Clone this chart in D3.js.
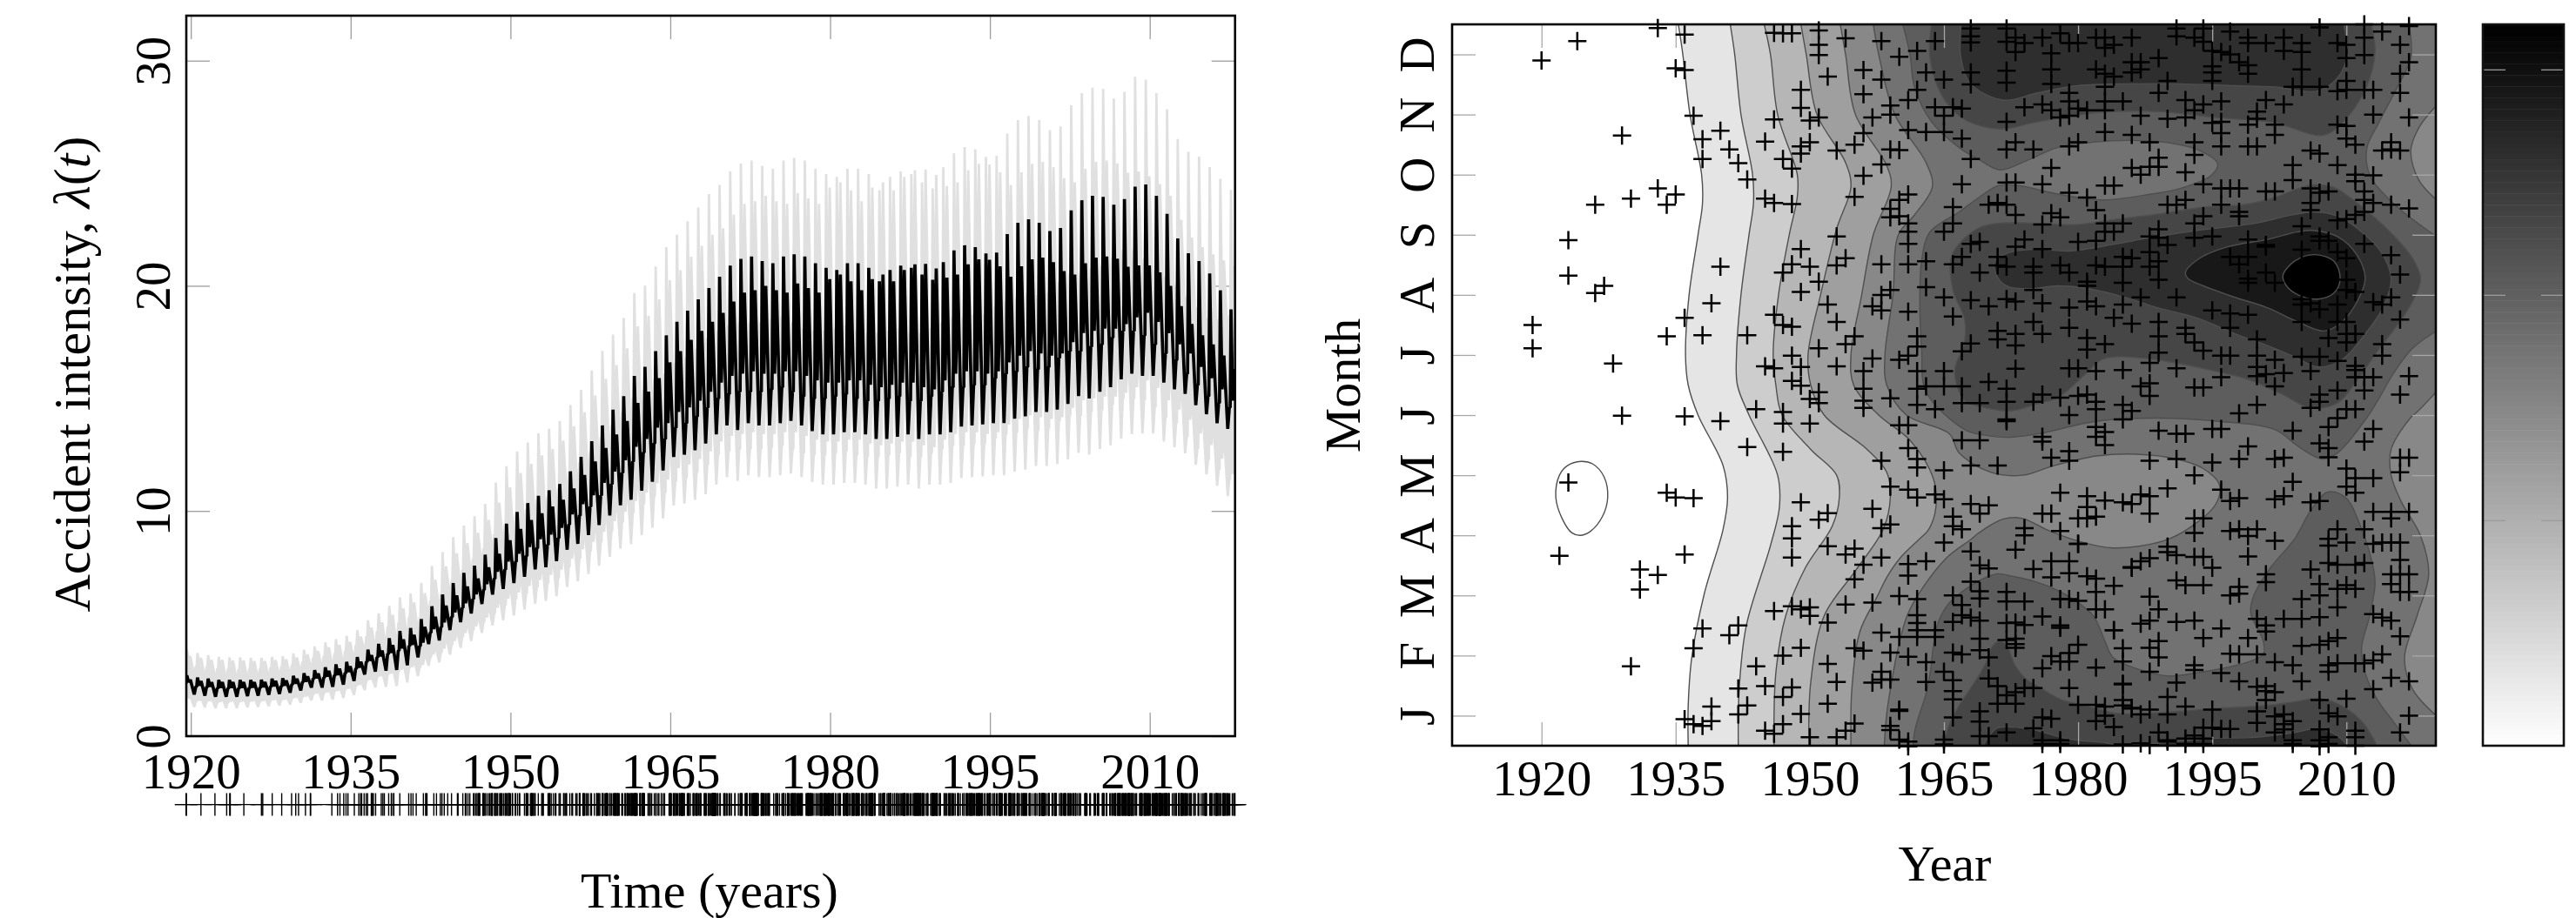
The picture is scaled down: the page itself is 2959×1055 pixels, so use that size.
<!DOCTYPE html>
<html><head><meta charset="utf-8">
<script src="https://d3js.org/d3.v7.min.js"></script>
<style>html,body{margin:0;background:#fff}svg{display:block}text{font-family:"Liberation Serif",serif;fill:#000}</style>
</head><body><svg id="c" width="2959" height="1055"></svg>
<script>
// ---------- left panel: intensity, one entry per year 1919..2017 ----------
const firstYear = 1919;
const augustPeak = [2.7,2.6,2.55,2.5,2.5,2.5,2.5,2.5,
 2.55,2.57,2.68,2.8,2.93,3.06,3.19,3.3,3.51,3.84,4.1,4.35,4.67,4.8,5.2,5.77,6.29,6.8,7.25,7.57,8.06,8.8,9.44,9.96,10.35,10.67,10.92,11.2,11.76,12.4,13.1,13.8,14.5,15.1,16,16.4,17.1,
 17.8,18.4,18.9,19.4,19.9,20.4,20.9,21.2,21.3,21.1,21,21.3,21.4,21.3,21,20.8,20.7,21,21,
 20.8,20.2,20.7,20.9,20.8,20.5,20.27,21.05,21.57,21.8,21.72,21.44,21.48,22.3,22.8,22.95,22.8,22.43,22.57,23.35,23.8,24,23.95,23.6,23.85,24.4,24.5,24,23.2,22.1,21.45,21.1,20.55,19.8,18.95];
const decemberPeak = [2.5,2.45,2.4,2.4,2.4,2.4,2.4,2.4,2.45,2.47,2.55,2.65,2.78,2.9,3.0,3.1,3.3,3.6,3.8,4.05,4.3,4.5,4.85,5.3,5.8,6.25,6.65,7.0,7.5,8.1,8.7,9.2,9.6,9.9,10.2,10.5,11,11.6,12.2,12.8,13.4,14,14.8,15.3,15.9,
 16.6,17.1,17.6,18.0,18.4,18.8,19.3,19.7,19.8,20,19.8,19.7,20.1,19.9,19.7,20.3,20.5,20.2,19.8,20.3,
 20.5,20.2,20.7,20.95,20.97,20.77,20.36,20.5,20.95,21.18,21.16,20.87,20.4,20.87,21.18,21.25,21.05,20.65,20.5,21,21.25,21.3,21.2,20.85,20.9,20.9,20.6,20,19.1,18.3,17.8,17.4,16.9,16.3];
const springTrough = [2.0,1.85,1.8,1.75,1.75,1.75,1.78,1.8,
 1.84,1.88,1.93,2.03,2.16,2.16,2.19,2.29,2.45,2.74,2.87,2.91,2.94,3.15,3.5,4.09,4.25,4.71,5.06,5.45,5.87,6.29,6.54,6.8,7.08,7.41,7.5,7.77,8.28,8.54,8.93,9.38,9.8,10.25,
 10.5,10.9,11.3,11.8,12.4,12.5,12.7,13,13.4,13.8,13.6,13.9,13.8,13.8,13.9,14,13.8,13.55,13.4,13.4,13.5,13.5,13.4,13.2,13.2,13.3,13.4,13.2,13.4,13.4,13.5,13.75,13.8,13.85,13.9,13.9,14.1,14.2,14.4,14.4,14.5,14.75,15.1,15,15.3,15.5,15.85,16.1,16,16,15.7,15.4,15.2,14.7,14.3,13.9,13.65];
const summerShoulder = [2.35,2.2,2.18,2.12,2.12,2.12,2.14,2.15,
 2.2,2.22,2.3,2.4,2.55,2.6,2.7,2.8,3.0,3.3,3.5,3.65,3.8,4.0,
 4.0,4.6,4.85,5.3,5.7,6.1,6.5,7.0,7.4,7.75,8.0,8.35,8.5,8.8,9.4,9.8,10.2,10.7,11.2,11.7,12.2,12.6,13.0,
 13.2,13.7,13.9,14.2,14.6,15,15.2,15.3,15.3,15.3,15.4,15.5,15.3,15.1,15,15,15.1,15.2,15,14.9,14.9,15,15.1,14.9,14.9,15.1,15.3,15.5,15.5,15.6,15.6,15.9,16.1,16.2,16.4,16.3,16.4,16.8,17.1,17.1,17.3,17.4,17.7,18,18,17.8,17.4,17,16.7,16.1,15.6,15.1,14.8,14.6];
const autumnDip = [2.4,2.25,2.2,2.15,2.15,2.15,2.16,2.18,
 2.22,2.25,2.33,2.42,2.58,2.65,2.72,2.85,3.05,3.35,3.55,3.7,3.9,4.05,
 4.15,4.75,5.05,5.5,5.9,6.3,6.75,7.3,7.75,8.1,8.4,8.75,8.95,9.25,9.85,10.3,10.7,11.25,11.75,12.25,12.85,13.2,13.7,
 13.9,14.4,14.6,14.9,15.3,15.7,16,16.1,16.2,16.1,16.1,16.2,16.2,16.0,15.8,15.7,15.7,15.8,15.8,15.6,15.5,15.6,15.7,15.7,15.5,15.4,15.8,16.1,16.2,16.2,16.1,16.2,16.6,16.9,17.1,17,16.9,17,17.5,17.9,18,18.1,18.1,18.3,18.6,18.8,18.4,17.9,17.4,17,16.4,15.9,15.4,14.9];
const bandRatio = [1.42,1.42,1.41,1.41,1.40,1.40,1.39,1.39,1.38,1.38,1.37,1.37,
 1.36,1.36,1.35,1.35,1.34,1.34,1.33,1.33,1.32,1.32,
 1.31,1.31,1.30,1.30,1.29,1.29,1.28,1.28,1.27,1.27,
 1.26,1.26,1.25,1.25,1.25,1.24,1.24,1.24,1.23,1.23,
 1.23,1.22,1.22,1.22,1.21,1.21,1.21,1.21,1.20,1.20,
 1.2,1.2,1.2,1.2,1.2,1.2,1.2,1.2,1.2,1.2,1.2,1.2,1.2,1.2,1.2,1.2,1.2,1.2,1.2,1.2,1.2,1.2,1.2,1.2,1.2,1.2,1.2,1.2,1.2,1.2,
 1.2,1.2,1.2,1.2,1.2,1.2,1.2,1.2,1.19,1.19,
 1.2,1.2,1.21,1.22,1.23,1.25,1.28];
const closingTrough = 13.5;
const intensityTicks = [0,10,20,30];
const timeTicks = [1920,1935,1950,1965,1980,1995,2010];

// ---------- right panel: contour outlines, [year, month] ----------
const outlineLevel1 = [[1935.3,12.5],[1935.8,12],[1936.6,11],[1937.9,10],[1938,9.53],[1937.5,9],[1936.5,8],[1936.1,7],[1936.4,6.5],[1937.5,6],[1940.3,5.16],[1940.8,4.63],[1940.3,4.1],[1938.2,3.03],[1936.8,1.97],[1936.4,1.17],[1936.4,.5]];
const outlineLevel2 = [[1941.1,12.5],[1941.6,12],[1942.3,11],[1943.6,10],[1943.7,9.53],[1943.2,9],[1942.3,8],[1941.8,7],[1941.9,6.5],[1943.2,6],[1946.4,5],[1946.6,4.47],[1945.6,3.83],[1942.9,2.5],[1942.1,1.44],[1942,.5]];
const outlineLevel3 = [[1944.9,12.5],[1945.6,12],[1946.4,11],[1948.6,10],[1948.6,9.63],[1947.7,9],[1946.5,8],[1945.9,7],[1946.2,6.5],[1946.9,6],[1950.1,5.43],[1953,5],[1953.3,4.63],[1952.5,4.15],[1949.5,3.46],[1947.3,2.66],[1946.2,1.71],[1946,.5]];
const outlineLevel4 = [[1949,12.5],[1949.6,12],[1950.8,11],[1954,10.2],[1954.6,9.8],[1953,9.1],[1951.2,8],[1949.8,7],[1950.1,6.5],[1951.6,6],[1956.4,5.43],[1958.6,5.05],[1959,4.63],[1958.2,4.1],[1955.1,3.41],[1951.6,2.66],[1950.1,1.55],[1949.9,.5]];
const outlineLevel5 = [[1953.4,12.5],[1954,12],[1955.1,11],[1958.6,10.15],[1959.1,9.8],[1957.1,9],[1955.8,8],[1954.6,7],[1954.9,6.5],[1957.7,6],[1961.2,5.58],[1963.8,4.95],[1964.1,4.47],[1963.3,4.1],[1962.2,3.93],[1960.2,3.64],[1958.6,3.3],[1957.6,3],[1955.6,2.4],[1954.7,1.44],[1954.6,.5]];
const outlineLevel6 = [[1957.1,12.5],[1957.7,12],[1959.5,11],[1963,10.2],[1963.7,9.8],[1961.7,9.33],[1959.9,9],[1959.3,8],[1958.4,7],[1958.6,6.5],[1960.8,6],[1965.6,5.69],[1966.7,5.37],[1970.2,5.05],[1973.8,5],[1977.3,5.16],[1982.1,5.32],[1986.5,5.35],[1991,5.27],[1994,5.11],[1995.8,4.84],[1995.4,4.52],[1992.7,4.15],[1989.6,3.91],[1983.9,3.79],[1979.9,3.91],[1976.4,4.1],[1973.8,4.28],[1971.6,4.27],[1968.9,4.04],[1968,3.93],[1965.4,3.64],[1962.5,3.1],[1960.9,2.67],[1959.9,2.14],[1959.2,1.61],[1958.6,1.03],[1958.3,.45]];
const rightLobeUpper = [[2020.06,11.15],[2018.1,10.78],[2017.2,10.4],[2018.1,9.91],[2020.06,9.58]];
const rightLobeLower = [[2020.06,6.39],[2017.9,6.05],[2017.2,5.96],[2015,5.43],[2015,5],[2016.1,4.57],[2018.3,3.99],[2019.2,3.35],[2017.9,2.66],[2016.5,1.97],[2017.4,1.44],[2020.06,1]];
const outlineLevel7Lead = [[1960.4,12.5],[1961.2,12],[1961.7,11.46],[1963.6,10.88],[1966.7,10.45],[1968.9,10.25],[1971.3,10.08],[1974.2,10.23],[1977.7,10.45],[1981.7,10.54],[1985.7,10.57],[1989.6,10.54],[1993.6,10.4],[1995.6,10.18],[1994.9,9.99],[1991.4,9.77],[1987.9,9.67],[1983,9.58],[1979.5,9.63],[1976.4,9.72],[1973.3,9.82],[1971.1,9.82],[1968.9,9.62],[1966.7,9.38],[1963.4,9.04],[1962.5,8.56],[1962.3,7.84],[1962.5,7.11],[1963,6.39],[1967.3,5.76],[1969.4,5.67],[1972.4,5.63],[1975.9,5.7],[1982.1,5.9],[1988.8,5.95],[1995.4,5.9],[2002,5.76],[2004.6,5.48],[2007.3,5.27],[2009,5.37],[2012.3,5.96],[2013.5,6.24],[2015.2,6.68],[2017.4,7.11],[2020.06,7.4]];
const outlineLevel7Tail = [[2020.06,8.97],[2015.2,9.53],[2012.6,10],[2012.3,10.45],[2013.5,10.83],[2015.7,11.46],[2017.2,11.94],[2017,12.5]];
const outlineLevel7Low = [[1961.5,.45],[1961.8,.79],[1963,1.37],[1963.5,1.75],[1963.8,2.14],[1964.3,2.53],[1965.4,2.84],[1967,3.06],[1969,3.25],[1971,3.36],[1972.6,3.32],[1975.2,3.23],[1977.8,3.08],[1979.5,2.93],[1981.7,2.66],[1983,2.24],[1983.9,1.97],[1987,1.76],[1990.1,1.66],[1993.2,1.71],[1998.5,1.87],[2000.7,2.02],[2000.7,2.24],[1999.3,2.71],[1999.6,2.98],[2001.5,3.46],[2004.2,3.94],[2006,4.41],[2007.9,4.72],[2009.9,4.63],[2011.7,4.1],[2013,3.46],[2013.2,3.19],[2012.6,2.66],[2011.7,2.13],[2012.1,1.71],[2013.4,1.28],[2015.2,.91],[2017.2,.51]];
const outlineLevel8Top = [[1963.6,12.5],[1963.4,12],[1964.3,11.46],[1966,11.07],[1967.8,10.88],[1971.3,10.76],[1975.5,10.88],[1982.1,11.03],[1988.8,11.05],[1995.4,10.95],[2002,10.86],[2007.1,10.65],[2009,10.78],[2012.1,11.41],[2013.2,12.04],[2012.8,12.5]];
const outlineLevel8Low = [[1964.6,.45],[1965.1,.64],[1965.7,.89],[1966.7,1.17],[1968,1.46],[1969.6,1.85],[1970.5,2.17],[1971.3,2.24],[1972.1,2.14],[1972.9,1.85],[1974.2,1.61],[1975.8,1.46],[1978.1,1.27],[1981.3,1.15],[1984.3,1.04],[1987.9,1.04],[1995.4,1.12],[2001.1,1.17],[2004.2,1.23],[2006.8,1.29],[2009,1.2],[2011.7,.91],[2013.4,.51]];
const outlineLevel8Mid = [[1966,8.08],[1965.9,8.66],[1968.6,9.09],[1971.1,9.19],[1975.5,9.19],[1979.9,9.17],[1984.3,9.26],[1988.8,9.34],[1994,9.46],[1998.5,9.5],[2002,9.62],[2004.6,9.77],[2006.4,9.83],[2008.6,9.79],[2010.4,9.62],[2012.6,9.36],[2015.2,9],[2017.4,8.61],[2018.3,8.27],[2017.4,7.89],[2015.7,7.5],[2013.5,7.07],[2011.2,6.58],[2009,6.2],[2006,6.12],[2002.9,6.34],[1999.3,6.58],[1995.4,6.73],[1988.8,6.92],[1984.3,6.97],[1982.6,6.92],[1980.8,6.68],[1977.7,6.29],[1975.5,6.19],[1972.4,6.07],[1968.9,6.15],[1967.3,6.24],[1966.2,6.73],[1967.3,7.21],[1967.3,7.6]];
const outlineLevel9Top = [[1966.9,12.5],[1966.9,11.94],[1968,11.51],[1971.6,11.24],[1975.5,11.36],[1979.9,11.48],[1985.7,11.51],[1991.4,11.51],[1997.6,11.48],[2002,11.46],[2006.8,11.39],[2009,11.61],[2010.1,11.99],[2009.7,12.5]];
const outlineLevel9Low = [[1969.2,.45],[1970.9,.79],[1972.6,.81],[1975.2,.76],[1978.1,.64],[1980,.59],[1983,.55],[1984.3,.51],[1988.8,.54],[1994.9,.62],[1999.8,.64],[2004.2,.72],[2006.4,.78],[2008.6,.7],[2010.1,.51]];
const outlineLevel9Mid = [[1970.7,8.56],[1972.4,8.71],[1975.5,8.76],[1979,8.73],[1984.3,8.85],[1987.9,8.95],[1993.2,9.07],[1999.8,9.19],[2003.3,9.31],[2006.4,9.38],[2009,9.31],[2011.7,9.05],[2013.9,8.71],[2015,8.27],[2014.1,7.79],[2012.1,7.35],[2009.5,6.92],[2006.8,6.8],[2004.2,6.97],[2001.1,7.16],[1997.6,7.35],[1993.2,7.62],[1988.8,7.79],[1985.2,7.96],[1981.3,8.1],[1977.7,8.15],[1974.6,8.1],[1972,8.15],[1970.9,8.32]];
const outlineLevel10 = [[1992,8.37],[1993.6,8.61],[1996.7,8.8],[2001.1,8.92],[2004.6,9.05],[2006.4,9.07],[2009,8.97],[2011.2,8.66],[2012.1,8.27],[2011.2,7.89],[2009.5,7.55],[2007.5,7.4],[2004.6,7.55],[2001.1,7.79],[1997.1,7.98],[1994,8.15],[1992.3,8.27]];
const outlineLevel11 = [[2002.9,8.32],[2004.2,8.56],[2006.4,8.67],[2008.6,8.56],[2009.3,8.27],[2008.6,8.03],[2006.8,7.93],[2004.6,8],[2003.3,8.15]];
const outlineIsland = [[1921.6,4.63],[1922,5],[1922.9,5.16],[1924.4,5.23],[1925.7,5.19],[1927,4.97],[1927.4,4.63],[1926.8,4.31],[1925.5,4.07],[1924.4,4],[1923.4,4.04],[1922.3,4.28]];
const levelGrays = [255,229,205,182,159,136,114,93,70,46,24,0];

// ---------- right panel: accidents, [year, month] ----------
const eventsUpperLeft = [[1933,12.44],[1936,12.33],[1924,12.22],[1920,11.9],[1935,11.77],[1936,11.74],[1937,10.98],[1929,10.65],[1940,10.73],[1938,10.59],[1941,10.42],[1938,10.26],[1942,10.19],[1943,9.92],[1933,9.77],[1935,9.67],[1930,9.6],[1934,9.5],[1926,9.5],[1945,9.6],[1946,9.53],[1948,9.51],[1923,8.91],[1923,8.32],[1927,8.15],[1926,8.03],[1919,7.5],[1919,7.11],[1928,6.86],[1929,5.99],[1936,5.98],[1940,8.47],[1939,7.86],[1936,7.62],[1934,7.31],[1938,7.33],[1943,7.33],[1940,5.9],[1945,6.81],[1946,6.78],[1944,6.1],[1947,6.05],[1947,5.86],[1946,10.92],[1945,10.55],[1947,10.26],[1948,10.1],[1949,11.41],[1949,11.11],[1950,10.9],[1951,10.95],[1949,10.47],[1950,10.54],[1949,10.35],[1953,10.4],[1955,10.5],[1956,10.69],[1957,10.95],[1959,11],[1956,11.34],[1956,11.74],[1958,11.58],[1952,11.63],[1951,12.4],[1951,12.16],[1951,11.99],[1947,12.35],[1946,12.36],[1948,12.35],[1954,12.27],[1958,12.22],[1960,11.96],[1962,12.06],[1964,12.22],[1963,11.7],[1965,11.58],[1968,12.43],[1968,12.3],[1968,11.5],[1959,11.15],[1961,11.24],[1962,11.41],[1961,10.74],[1963,10.71],[1965,10.71],[1959,10.42],[1960,10.41],[1958,10.17],[1956,9.98],[1955,9.63],[1967,9.84],[1968,10.26],[1967,10.6],[1966,11.12],[1964,11.12],[1965,10.98],[1967,11.1],[1961,9.67],[1960,9.58],[1959,9.43],[1959,9.29],[1960,9.31],[1961,9.19],[1961,9.05],[1961,8.85],[1953,8.97],[1949,8.76],[1954,8.61],[1953,8.49],[1950,8.47],[1948,8.51],[1947,8.37],[1951,8.22],[1949,8.05],[1952,7.84],[1953,7.55],[1946,7.67],[1947,7.5],[1948,7.47],[1955,7.31],[1954,7.18],[1951,7.11],[1948,6.99],[1949,6.8],[1953,6.81],[1957,6.94],[1956,6.73],[1956,6.44],[1956,6.24],[1956,6.12],[1959,6.28],[1948,6.57],[1949,6.49],[1951,6.38],[1950,6.27],[1951,6.2],[1950,5.86],[1958,8.51],[1961,8.51],[1963,8.56],[1966,8.51],[1967,8.63],[1969,8.37],[1969,8.88],[1968,8.85],[1965,9.05],[1966,9.46],[1966,9.19],[1970,9.5],[1971,9.53],[1963,8.13],[1959,8.08],[1958,8],[1957,7.81],[1958,7.74],[1961,7.72],[1965,7.96],[1968,7.91],[1970,7.81],[1966,7.64],[1971,7.4],[1967,7.06],[1968,7.19],[1962,7.31],[1961,6.99],[1960,6.92],[1962,7.14],[1962,6.73],[1962,6.44],[1962,6.17],[1963,6.48],[1964,6.1],[1965,6.73],[1965,6.48],[1967,6.2],[1967,6.48],[1969,6.2],[1970,6.55],[1961,5.83],[1960,5.83]];
const eventsLowerLeft = [[1923,4.88],[1922,3.66],[1934,4.71],[1935,4.63],[1937,4.62],[1936,3.68],[1931,3.43],[1933,3.34],[1931,3.1],[1930,1.82],[1938,2.45],[1937,2.12],[1942,2.5],[1941,2.34],[1949,4.55],[1948,4.15],[1948,3.95],[1948,3.63],[1943,5.47],[1947,5.39],[1952,4.37],[1951,4.26],[1952,3.82],[1955,3.78],[1954,3.68],[1956,3.51],[1955,3.27],[1957,4.44],[1959,4.81],[1958,5.24],[1961,4.76],[1962,5.27],[1962,5.13],[1965,5.08],[1964,4.68],[1965,4.6],[1962,4.63],[1961,5.45],[1967,5.58],[1969,5.58],[1968,5.16],[1971,5.16],[1968,4.52],[1970,4.5],[1969,4.36],[1966,4.31],[1967,4.1],[1966,4.15],[1959,4.18],[1958,4.12],[1954,2.85],[1952,2.55],[1950,2.66],[1950,2.8],[1949,2.77],[1948,2.82],[1946,2.74],[1949,2.13],[1947,2],[1944,1.82],[1945,1.49],[1942,1.45],[1943,1.17],[1942,1.02],[1939,1.15],[1939,.91],[1938,.83],[1936,.94],[1937,.86],[1948,1.47],[1947,1.31],[1949,1.03],[1947,.86],[1945,.75],[1946,.7],[1952,1.86],[1953,1.56],[1952,1.2],[1950,.64],[1953,.64],[1954,.75],[1955,.87],[1955,2.12],[1956,2.08],[1957,1.55],[1957,2.88]];
const eventsLowerMiddle = [[1965,3.88],[1968,3.73],[1969,3.5],[1970,3.45],[1973,3.76],[1975,3.44],[1977,3.57],[1977,3.3],[1979,3.57],[1979,3.37],[1980,3.86],[1981,3.32],[1982,3.28],[1984,3.16],[1982,3.06],[1982,2.77],[1983,2.77],[1986,3.47],[1968,3.23],[1969,3.07],[1969,2.95],[1972,3.06],[1972,2.9],[1974,2.9],[1966,3],[1967,2.84],[1966,2.56],[1967,2.67],[1968,2.63],[1969,2.58],[1972,2.54],[1973,2.55],[1974,2.51],[1976,2.65],[1978,2.5],[1978,2.46],[1978,2.94],[1979,2.94],[1980,2.91],[1973,2.28],[1973,2.19],[1973,2.13],[1972,2.26],[1969,2.28],[1969,2.09],[1970,1.97],[1967,2.02],[1966,2.05],[1962,2.94],[1962,2.67],[1962,2.54],[1962,2.42],[1962,2.31],[1964,2.42],[1964,2.31],[1961,3.52],[1961,3.33],[1963,3.57],[1960,2.99],[1958,3.63],[1958,2.38],[1960,2.31],[1959,2.05],[1961,1.98],[1963,1.89],[1963,1.56],[1965,1.73],[1966,1.59],[1966,1.41],[1966,1.27],[1966,.97],[1958,1.73],[1958,1.6],[1959,1.6],[1960,1.1],[1960,1.08],[1959,.76],[1959,.83],[1960,.6],[1961,.57],[1965,.6],[1970,1.62],[1971,1.49],[1971,1.2],[1972,1.34],[1973,1.39],[1973,1.2],[1974,1.46],[1975,1.46],[1969,1.07],[1969,.9],[1969,.66],[1970,.66],[1972,.72],[1975,.79],[1976,.59],[1976,.97],[1977,.95],[1978,.59],[1976,1.79],[1977,1.99],[1978,1.9],[1979,2.04],[1980,2.18],[1982,1.8],[1979,1.9],[1980,1.18],[1979,1.46],[1982,1.18],[1983,1.15],[1983,1],[1984,.81],[1982,.91],[1985,1.53],[1985,1.17],[1986,1.13],[1985,2.12],[1984,2.42],[1976,.53],[1978,.53],[1985,.52],[1987,.54],[1988,.51],[1990,.57],[1992,.53],[1994,.53],[2004,.53],[2007,.49],[2008,.53],[2011,.5],[1961,.49],[1965,.52]];
const eventsLowerRight = [[1972,5.9],[1976,5.64],[1976,5.56],[1977,5.29],[1979,5.4],[1979,5.24],[1983,5.72],[1982,5.8],[1982,5.64],[1983,5.5],[1988,5.24],[1989,5.74],[1991,5.69],[1992,5.69],[1991,5.27],[1993,5],[1995,5.21],[1996,5.77],[1995,5.77],[1998,5.27],[1999,5.48],[2002,5.27],[2003,5.29],[2004,4.89],[2004,5.74],[2007,5.53],[2008,5.8],[2008,5.45],[2008,5.3],[2012,5.56],[2013,5.77],[2016,5.29],[2017,5.29],[2016,5.05],[2010,5.11],[2011,4.95],[2013,4.95],[2010,4.81],[2011,4.71],[2002,4.6],[2003,4.65],[1998,4.62],[2006,4.55],[2007,4.57],[1996,4.76],[1997,4.57],[1990,4.78],[1987,4.68],[1988,4.65],[1986,4.52],[1985,4.55],[1983,4.58],[1981,4.65],[1981,4.47],[1981,4.28],[1982,4.31],[1980,4.28],[1978,4.71],[1977,4.36],[1976,4.36],[1974,4.12],[1974,4],[1978,4.07],[1980,3.86],[1988,4.36],[1993,4.28],[1994,4.28],[1993,4.04],[2013,4.39],[2015,4.39],[2017,4.39],[2015,4.28],[1998,4.1],[2000,4.1],[1997,4.07],[1999,3.99],[1999,3.65],[2002,3.91],[2009,4.1],[2008,3.94],[2010,3.88],[2008,3.83],[2012,4.1],[2013,3.86],[2014,3.88],[2015,3.88],[2016,3.88],[2016,3.59],[2015,3.35],[2017,3.35],[2016,3.35],[2015,3.19],[2017,3.06],[2016,3.06],[2011,3.51],[2012,3.54],[2009,3.51],[2008,3.54],[2001,3.35],[2001,3.22],[2006,3.43],[2007,3.19],[2010,3.17],[2011,3.11],[2009,3.11],[2007,3],[2005,2.94],[2009,2.8],[2013,2.69],[2014,2.63],[2015,2.58],[2016,2.32],[2007,2.64],[2005,2.61],[2003,2.61],[2000,2.61],[2001,2.5],[2001,2.4],[1998,3.14],[1997,3],[1998,3.03],[1995,3.46],[1994,3.64],[1993,3.64],[1991,3.67],[1990,3.81],[1990,3.72],[1988,3.62],[1986,3.46],[1987,3.57],[1991,3.25],[1992,3.17],[1994,3.17],[1988,2.98],[1989,2.77],[1988,2.58],[1987,2.53],[1991,2.56],[1993,2.58],[1996,2.45],[1994,2.29],[1999,2.29],[1998,2.02],[2000,2.02],[2005,2.16],[2007,2.18],[2008,2.24],[2009,2.29],[2008,1.84],[2009,1.87],[2008,1.73],[2011,1.87],[2012,1.87],[2013,1.92],[2014,2.02],[2015,1.63],[2017,1.57],[2013,1.44],[2010,1.28],[2007,1.26],[2008,1.04],[2009,.99],[2017,1],[2016,.72],[2011,.75],[2007,.77],[2007,.59],[2008,.64],[2004,.91],[2003,1.02],[2002,.99],[2000,.88],[2000,1.07],[2001,1.26],[2001,1.41],[2002,1.39],[2001,1.49],[2000,1.48],[1998,1.57],[1997,2.03],[2002,1.89],[2004,1.84],[2005,1.57],[1996,1.71],[1993,1.84],[1993,1.76],[1991,1.55],[1990,1.31],[1990,1.02],[1992,1.15],[1988,1.73],[1989,1.97],[1989,2.24],[1988,2.13],[1985,1.9],[1984,2.42],[1985,1.52],[1985,1.26],[1987,1.02],[1988,1.1],[1986,1.12],[1989,.72],[1990,.59],[1992,.62],[1993,.67],[1994,.8],[1995,1.1],[1995,.8],[1996,.78],[1997,.78],[1994,.62],[2004,.59],[2003,.77],[2003,.86],[2002,.72],[2011,.64]];
const eventsUpperTop = [[1968,12.2],[1968,11.7],[1972,12.43],[1972,12.21],[1972,11.73],[1972,11.53],[1974,12.19],[1973,12.04],[1973,12.28],[1976,12.28],[1977,12.02],[1977,11.75],[1977,11.51],[1978,12.35],[1979,12.19],[1980,12.19],[1982,12.28],[1983,12.28],[1983,12.11],[1984,12.16],[1986,12.28],[1989,11.94],[1982,11.75],[1983,11.68],[1984,11.63],[1986,11.7],[1987,11.87],[1987,11.75],[1986,11.87],[1990,11.56],[1991,12.43],[1991,12.3],[1993,12.28],[1994,12.43],[1994,12.21],[1995,12.06],[1995,11.8],[1995,11.7],[1995,11.56],[1996,12.04],[1997,12.38],[1997,12],[1998,11.87],[1999,12.28],[1999,12.19],[1999,11.82],[1999,11.68],[2001,12.19],[2003,12.28],[2003,12.06],[2005,12.19],[2005,12.04],[2005,11.75],[2005,11.46],[2007,12.45],[2007,11.46],[2009,12.19],[2010,12.16],[2010,11.94],[2010,11.56],[2012,12.5],[2012,12.28],[2012,11.99],[2014,12.38],[2016,12.16],[2017,12.47],[2017,11.87],[2016,11.68],[2016,11.36],[2017,10.95],[2013,11.41],[2013,11],[2012,11.41],[2009,11.39],[2010,11.41],[2009,10.83],[2010,10.81]];
const eventsUpperMid = [[1972,10.88],[1974,11.12],[1976,11.17],[1977,11.07],[1978,10.95],[1979,10.98],[1979,11.22],[1979,11.36],[1980,11.1],[1981,11.07],[1983,11.46],[1983,11.22],[1983,11.07],[1985,11.22],[1987,10.98],[1989,11.36],[1990,10.93],[1992,10.95],[1992,11.24],[1993,11.07],[1994,11.17],[1996,11.22],[1996,10.88],[1995,10.86],[1996,10.69],[1996,10.47],[1999,10.83],[1999,10.47],[2000,10.47],[2000,11.05],[2000,10.93],[2001,11.24],[2002,10.83],[2002,10.66],[2003,11.17],[2004,11.46],[2010,10.6],[2011,10.5],[1983,10.71],[1986,10.66],[1988,10.54],[1980,10.54],[1979,10.47],[1973,10.54],[1972,10.42],[1975,10.42],[1989,10.28],[1993,10.54],[1993,10.33],[1988,10.13],[1989,10.13],[1987,10],[1986,10.11],[1992,10.04],[1994,9.84],[1996,9.77],[1997,9.77],[1998,9.77],[2001,9.72],[2002,9.72],[2004,10.16],[2004,9.91],[2006,10.4],[2007,10.35],[2009,10.16],[2011,10],[2011,9.89],[2013,9.99],[2015,10.54],[2015,10.42],[2014,10.4],[2016,10.4],[2015,9.5],[2017,9.44],[2012,9.72],[2012,9.58],[2013,9.53],[2011,9.33],[2012,9.38],[2010,9.26],[2009,9.24],[2007,9.7],[2006,9.77],[2006,9.53],[2006,9.41],[2008,9.72],[2005,9.14],[2001,8.83],[1999,8.92],[1998,9.31],[1998,9.38],[1996,9.5],[1993,9.19],[1994,9.31],[1992,9.58],[1991,9.5],[1990,9.5],[1989,9.09],[1988,8.97],[1985,9.19],[1983,9.19],[1982,9.41],[1977,9.36],[1978,9.29],[1976,9.17],[1973,9.33],[1972,9.5],[1972,9.87],[1973,9.87],[1976,9.84],[1977,10.11],[1979,9.7],[1981,9.62],[1983,9.82],[1984,9.82],[1980,8.88],[1982,8.9],[1984,9.05],[1983,9.05],[1974,8.92],[1973,8.8],[1971,8.63],[1975,8.47],[1976,8.76],[1972,8.47],[1971,8.49],[1975,8.37]];
const eventsUpperLow = [[1978,8.49],[1979,8.37],[1982,8.49],[1983,8.47],[1985,8.63],[1985,8.47],[1985,8.2],[1986,8.61],[1988,8.47],[1988,8.71],[1989,8.25],[1989,8.56],[1989,8.95],[1990,8.83],[1993,8.95],[1995,8.97],[1997,8.63],[1998,8.51],[1999,8.63],[1999,8.27],[1999,8.2],[2001,8.8],[2001,8.37],[2002,8.2],[2005,8.75],[2007,8.97],[2007,8.9],[2008,8.9],[2009,8.71],[2010,8.61],[2012,8.85],[2015,8.66],[2016,8.34],[2015,7.96],[2013,7.88],[2014,7.84],[2010,8.25],[2010,8.08],[2011,8.05],[2009,7.84],[2005,7.93],[2005,7.84],[2006,7.86],[2007,7.76],[2005,7.55],[2009,7.55],[2010,7.55],[2010,7.35],[2011,7.35],[2010,7.21],[2008,7.28],[2007,6.97],[2005,6.97],[2009,6.9],[2006,6.73],[2011,6.82],[2011,6.75],[2011,6.63],[2012,6.63],[2013,6.63],[2017,6.65],[2016,6.34],[2014,7.18],[2014,6.99],[2016,7.59],[2009,6.41],[2007,6.34],[2007,6.22],[2006,6.12],[2012,6.41],[2009,5.95],[2010,6.1],[2011,6.1],[2002,6.92],[2000,7.26],[2000,6.99],[2000,6.8],[2000,6.65],[2001,6.68],[2003,6.7],[2002,6.48],[1997,6.99],[1996,6.99],[1996,6.63],[1994,6.46],[1993,6.46],[1991,6.78],[1988,6.87],[1989,7.04],[1988,6.53],[1988,6.32],[1985,6.75],[1987,6.48],[1986,6.07],[1985,6.17],[1985,5.93],[1982,6.73],[1981,6.34],[1982,6.22],[1982,6.1],[1979,6],[1980,6.32],[1980,6.78],[1979,6.78],[1973,6.77],[1972,6.22],[1972,6.44],[1972,5.93],[1976,6.34],[1975,6.22],[1978,6.29],[1998,6.03],[2000,6.17],[1981,7.09],[1981,7.28],[1979,7.45],[1973,7.35],[1971,7.26],[1973,7.16],[1976,7.35],[1975,7.55],[1979,7.79],[1982,7.81],[1985,7.84],[1987,7.96],[1991,7.96],[1995,7.74],[1997,7.69],[1999,7.67],[1997,7.45],[1993,7.21],[1992,7.45],[1992,7.35],[1994,7.07],[1989,7.55],[1989,7.31],[1986,7.52],[1984,7.62],[1983,7.18],[1972,7.93],[1973,7.89],[1975,8.08],[1976,7.86],[1981,7.89],[1981,8.15],[1981,8.22]];
const monthLetters = ["J","F","M","A","M","J","J","A","S","O","N","D"];
const yearTicks = [1920,1935,1950,1965,1980,1995,2010];
const colourbarTicks = [5,10,15];

// ---------- drawing ----------
const svg = d3.select("#c");
const defs = svg.append("defs");
const FS = 57, TICK = "#9c9c9c";

// left panel
const L = {l:214, r:1418.7, t:18, b:846};
const xL = d3.scaleLinear().domain([1920,2010]).range([219.2,1320.7]);
const yL = d3.scaleLinear().domain([0,30]).range([846,69.7]);
defs.append("clipPath").attr("id","cl").append("rect").attr("x",L.l).attr("y",L.t).attr("width",L.r-L.l).attr("height",L.b-L.t);

function styleAxis(g, colour){
  g.select(".domain").remove();
  g.selectAll(".tick line").attr("stroke",colour).attr("stroke-width",1.3);
  g.selectAll(".tick text").attr("font-size",FS).attr("fill","#000").attr("font-family","Liberation Serif");
}
const gLA = svg.append("g");
gLA.append("g").attr("transform",`translate(0,${L.b})`).call(d3.axisBottom(xL).tickValues(timeTicks).tickFormat(d3.format("d")).tickSize(-27).tickPadding(19.5)).call(styleAxis,TICK);
gLA.append("g").attr("transform",`translate(0,${L.t})`).call(d3.axisTop(xL).tickValues(timeTicks).tickFormat("").tickSize(-27)).call(styleAxis,TICK);
gLA.append("g").attr("transform",`translate(${L.l},0)`).call(d3.axisLeft(yL).tickValues(intensityTicks).tickFormat(d3.format("d")).tickSize(-27)).call(styleAxis,TICK)
  .selectAll(".tick text").attr("x",null).attr("dy",null).attr("text-anchor","middle").attr("transform","translate(-19,0) rotate(-90)");
gLA.append("g").attr("transform",`translate(${L.r},0)`).call(d3.axisRight(yL).tickValues(intensityTicks).tickFormat("").tickSize(-27)).call(styleAxis,TICK);

const series = [];
augustPeak.forEach((a,i)=>{
  const y = firstYear+i, r = bandRatio[i];
  [[.32,springTrough[i]],[.47,summerShoulder[i]],[.55,summerShoulder[i]],[.625,a],[.79,autumnDip[i]],[.96,decemberPeak[i]]]
    .forEach(([f,v])=>series.push({t:y+f,v,r}));
});
series.push({t:firstYear+augustPeak.length+.32,v:closingTrough,r:1.3});
const gS = svg.append("g").attr("clip-path","url(#cl)");
gS.append("path").datum(series).attr("d",d3.area().x(d=>xL(d.t)).y0(d=>yL(d.v/d.r)).y1(d=>yL(d.v*d.r)))
  .attr("fill","#e0e0e0").attr("stroke","#e0e0e0").attr("stroke-width",2.8).attr("stroke-linejoin","bevel");
gS.append("path").datum(series).attr("d",d3.line().x(d=>xL(d.t)).y(d=>yL(d.v)))
  .attr("fill","none").attr("stroke","#000").attr("stroke-width",3.7).attr("stroke-linejoin","bevel");
svg.append("rect").attr("x",L.l).attr("y",L.t).attr("width",L.r-L.l).attr("height",L.b-L.t).attr("fill","none").attr("stroke","#000").attr("stroke-width",2.6);

const allEvents = [].concat(eventsUpperLeft,eventsLowerLeft,eventsLowerMiddle,eventsLowerRight,eventsUpperTop,eventsUpperMid,eventsUpperLow);
// rug: each accident at its decimal time
const rugY = 924.6;
svg.append("g").selectAll("path").data(allEvents).join("path")
  .attr("d",d=>{const x=xL(d[0]+(d[1]-.5)/12);return `M${x-13},${rugY}H${x+13}M${x},${rugY-13}V${rugY+13}`;})
  .attr("stroke","#000").attr("stroke-width",1.4).attr("fill","none");

svg.append("text").attr("transform",`translate(103,430) rotate(-90)`).attr("text-anchor","middle").attr("font-size",60)
  .html('Accident intensity, <tspan font-style="italic">λ</tspan>(<tspan font-style="italic">t</tspan>)');
svg.append("text").attr("x",815).attr("y",1043).attr("text-anchor","middle").attr("font-size",58).text("Time (years)");

// right panel
const R = {l:1668, r:2798, t:28, b:857};
const xR = d3.scaleLinear().domain([1910,2020]).range([R.l,R.r]);
const yR = d3.scaleLinear().domain([.5,12.5]).range([R.b,R.t]);
defs.append("clipPath").attr("id","cr").append("rect").attr("x",R.l).attr("y",R.t).attr("width",R.r-R.l).attr("height",R.b-R.t);
const gC = svg.append("g").attr("clip-path","url(#cr)");
const outline = d3.line().x(d=>xR(d[0])).y(d=>yR(d[1])).curve(d3.curveCatmullRom.alpha(.5));
const closedOutline = d3.line().x(d=>xR(d[0])).y(d=>yR(d[1])).curve(d3.curveCatmullRomClosed.alpha(.5));
const farRight = 2026, above = 14, below = -1;
function region(level, pts, tail, closed){
  let d;
  if(closed) d = closedOutline(pts);
  else d = outline(pts) + tail(pts).map(p=>`L${xR(p[0])},${yR(p[1])}`).join("") + "Z";
  const g = levelGrays[level];
  gC.append("path").attr("d",d).attr("fill",`rgb(${g},${g},${g})`).attr("stroke","#4f4f4f").attr("stroke-width",1.4);
}
const closeRight = p=>[[farRight,below],[farRight,above],[p[0][0],above]];
const closeTop = p=>[[p[p.length-1][0],above],[p[0][0],above]];
const closeBottom = p=>[[p[p.length-1][0],below],[p[0][0],below]];
const closeEdge = p=>[[farRight,p[p.length-1][1]],[farRight,p[0][1]]];
region(1,outlineLevel1,closeRight);
region(2,outlineLevel2,closeRight);
region(3,outlineLevel3,closeRight);
region(4,outlineLevel4,closeRight);
region(5,outlineLevel5,closeRight);
region(6,outlineLevel6,closeRight);
region(5,rightLobeUpper,closeEdge);
region(5,rightLobeLower,closeEdge);
{ // the upper level 7 region runs off the right edge and comes back
  const d = outline(outlineLevel7Lead) + `L${xR(farRight)},${yR(7.4)}L${xR(farRight)},${yR(8.97)}`
    + outline(outlineLevel7Tail).replace(/^M/,"L") + `L${xR(2017)},${yR(above)}L${xR(1960.4)},${yR(above)}Z`;
  const g = levelGrays[7];
  gC.append("path").attr("d",d).attr("fill",`rgb(${g},${g},${g})`).attr("stroke","#4f4f4f").attr("stroke-width",1.4);
}
region(7,outlineLevel7Low,closeBottom);
region(8,outlineLevel8Top,closeTop);
region(8,outlineLevel8Low,closeBottom);
region(8,outlineLevel8Mid,null,true);
region(9,outlineLevel9Top,closeTop);
region(9,outlineLevel9Low,closeBottom);
region(9,outlineLevel9Mid,null,true);
region(10,outlineLevel10,null,true);
region(11,outlineLevel11,null,true);
region(0,outlineIsland,null,true);

const RT = "#a8a8a8";
const gRA = svg.append("g");
gRA.append("g").attr("transform",`translate(0,${R.b})`).call(d3.axisBottom(xR).tickValues(yearTicks).tickFormat(d3.format("d")).tickSize(-27).tickPadding(17)).call(styleAxis,RT);
gRA.append("g").attr("transform",`translate(0,${R.t})`).call(d3.axisTop(xR).tickValues(yearTicks).tickFormat("").tickSize(-27)).call(styleAxis,RT);
gRA.append("g").attr("transform",`translate(${R.l},0)`).call(d3.axisLeft(yR).tickValues(d3.range(1,13)).tickFormat(d=>monthLetters[d-1]).tickSize(-27)).call(styleAxis,RT)
  .selectAll(".tick text").attr("x",null).attr("dy",null).attr("text-anchor","middle").attr("transform","translate(-21,0) rotate(-90)");
gRA.append("g").attr("transform",`translate(${R.r},0)`).call(d3.axisRight(yR).tickValues(d3.range(1,13)).tickFormat("").tickSize(-27)).call(styleAxis,RT);
svg.append("rect").attr("x",R.l).attr("y",R.t).attr("width",R.r-R.l).attr("height",R.b-R.t).attr("fill","none").attr("stroke","#000").attr("stroke-width",2.6);

svg.append("g").selectAll("path").data(allEvents).join("path")
  .attr("d",d=>{const x=xR(d[0]),y=yR(d[1]);return `M${x-10.5},${y}H${x+10.5}M${x},${y-10.5}V${y+10.5}`;})
  .attr("stroke","#000").attr("stroke-width",2.5).attr("fill","none");

svg.append("text").attr("transform","translate(1562,443) rotate(-90)").attr("text-anchor","middle").attr("font-size",58).text("Month");
svg.append("text").attr("x",2234).attr("y",1012).attr("text-anchor","middle").attr("font-size",58).text("Year");

// colour bar
const CB = {l:2852, r:2945, t:28, b:857};
const yCB = d3.scaleLinear().domain([0,16]).range([CB.b,CB.t]);
const cbGray = d3.scaleLinear().domain([0,16]).range([255,0]);
const step = .125;
svg.append("g").selectAll("rect").data(d3.range(0,16,step)).join("rect")
  .attr("x",CB.l).attr("width",CB.r-CB.l).attr("y",d=>yCB(d+step)).attr("height",d=>yCB(d)-yCB(d+step)+.5)
  .attr("fill",d=>{const g=Math.round(cbGray(d+step/2));return `rgb(${g},${g},${g})`;});
svg.append("g").attr("transform",`translate(${CB.l},0)`).call(d3.axisLeft(yCB).tickValues(colourbarTicks).tickFormat("").tickSize(-26)).call(styleAxis,TICK);
svg.append("g").attr("transform",`translate(${CB.r},0)`).call(d3.axisRight(yCB).tickValues(colourbarTicks).tickFormat("").tickSize(-26)).call(styleAxis,TICK);
svg.append("rect").attr("x",CB.l).attr("y",CB.t).attr("width",CB.r-CB.l).attr("height",CB.b-CB.t).attr("fill","none").attr("stroke","#111").attr("stroke-width",2.6);
</script></body></html>
